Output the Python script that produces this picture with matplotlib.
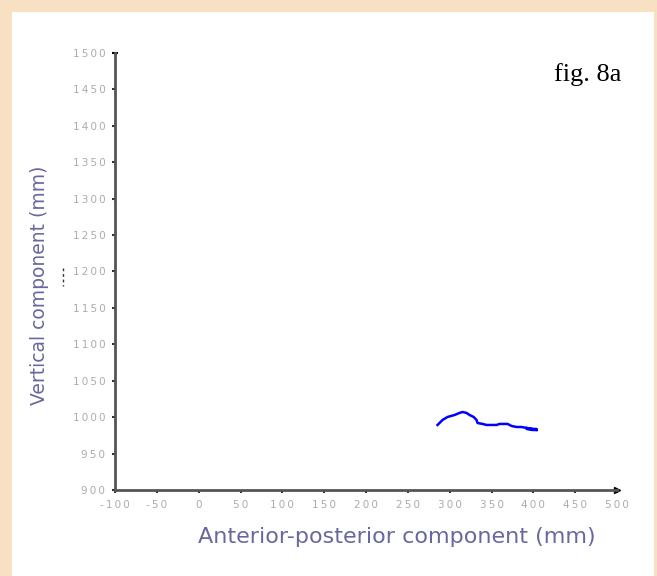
import matplotlib.pyplot as plt
from matplotlib.patches import Rectangle
from matplotlib.lines import Line2D

# path of the centre of pressure
ap = [285.5, 291.5, 297.5, 305.9, 311.8, 315.4, 320.2, 323.8, 328.6, 332.1,
      333.3, 339.3, 344.1, 356.0, 359.6, 369.2, 374.0, 379.9, 385.9, 391.9,
      399.0, 403.8, 403.8, 396.0, 392.0, 392.0, 399.0, 404.0]
vert = [989.3, 996.2, 1000.3, 1003.0, 1005.8, 1007.1, 1005.8, 1003.0, 1000.3, 996.2,
        992.0, 990.7, 989.3, 989.3, 990.7, 990.7, 987.9, 986.5, 986.5, 985.2,
        983.8, 982.4, 983.8, 983.8, 985.2, 983.8, 982.4, 982.4]

xticks = list(range(-100, 501, 50))
yticks = list(range(900, 1501, 50))


def spaced(v):
    # the original tick font is very wide, spread the digits a little
    return '\u2009'.join(str(v))


fig = plt.figure(figsize=(6.57, 5.76), dpi=100)
fig.patch.set_facecolor('#F8E0C3')
fig.add_artist(Rectangle((12/657, 0), 642/657, 1 - 12/576, transform=fig.transFigure,
                         facecolor='white', edgecolor='none', zorder=0))

ax = fig.add_axes([115/657, 1 - 490/576, 502/657, 437/576])
ax.set_facecolor('none')
ax.plot(ap, vert, color='#0000ff', lw=1.8)

ax.set_xlim(-100, 500)
ax.set_ylim(900, 1500)
ax.set_xticks(xticks)
ax.set_xticklabels([spaced(v) for v in xticks])
ax.set_yticks(yticks)
ax.set_yticklabels([spaced(v) for v in yticks])
ax.tick_params(labelsize=7.5, labelcolor='#ababab', length=2, width=1.5,
               color='#333333', pad=5)
for s in ['top', 'right']:
    ax.spines[s].set_visible(False)
for s in ['left', 'bottom']:
    ax.spines[s].set_color('#555555')
    ax.spines[s].set_linewidth(2)
ax.plot(1, 0, '>', color='black', markersize=4, transform=ax.transAxes, clip_on=False)
ax.plot(0, 1, '_', color='black', markersize=5, mew=1.5, transform=ax.transAxes, clip_on=False)

fig.text(397/657, 1 - 537/576, 'Anterior-posterior component (mm)', ha='center', va='center',
         fontsize=16, color='#6868a0')
fig.text(40/657, 1 - 285/576, 'Vertical component (mm)', ha='center', va='center',
         rotation=90, fontsize=13.5, color='#6868a0')
fig.text(588/657, 1 - 75/576, 'fig. 8a', ha='center', va='center',
         fontsize=19, family='Liberation Serif', color='black')

fig.add_artist(Line2D([63/657, 63/657], [1 - 268/576, 1 - 286/576], transform=fig.transFigure,
                      color='#333333', lw=1, ls=(0, (2, 2))))

fig.savefig('out.png', dpi=100)
